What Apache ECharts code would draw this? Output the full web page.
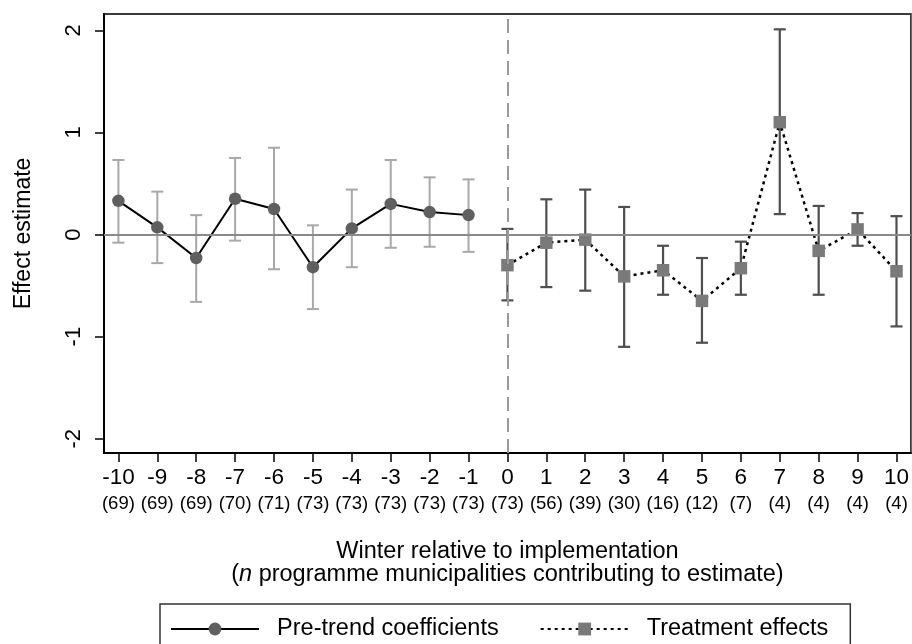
<!DOCTYPE html>
<html>
<head>
<meta charset="utf-8">
<script src="https://cdn.jsdelivr.net/npm/echarts@6/dist/echarts.min.js"></script>
<style>html,body{margin:0;padding:0;background:#fff}#c{width:912px;height:644px}</style>
</head>
<body>
<div id="c"></div>
<script>
// ---- data ----
var xTicks = [-10,-9,-8,-7,-6,-5,-4,-3,-2,-1,0,1,2,3,4,5,6,7,8,9,10];
var nCounts = [69,69,69,70,71,73,73,73,73,73,73,56,39,30,16,12,7,4,4,4,4];
var yTicks = [-2,-1,0,1,2];

var preX   = [-10,-9,-8,-7,-6,-5,-4,-3,-2,-1];
var preEst = [0.33, 0.07, -0.23, 0.35, 0.25, -0.32, 0.06, 0.30, 0.22, 0.19];
var preLo  = [-0.08, -0.28, -0.66, -0.06, -0.34, -0.73, -0.32, -0.13, -0.12, -0.17];
var preHi  = [0.73, 0.42, 0.19, 0.75, 0.85, 0.09, 0.44, 0.73, 0.56, 0.54];

var postX   = [0,1,2,3,4,5,6,7,8,9,10];
var postEst = [-0.30, -0.08, -0.05, -0.41, -0.35, -0.65, -0.33, 1.10, -0.16, 0.05, -0.36];
var postLo  = [-0.645, -0.515, -0.55, -1.10, -0.59, -1.06, -0.59, 0.20, -0.59, -0.11, -0.90];
var postHi  = [0.055, 0.345, 0.44, 0.27, -0.11, -0.23, -0.07, 2.01, 0.28, 0.21, 0.18];

var seriesNames = ['Pre-trend coefficients', 'Treatment effects'];

// ---- build ----
function zip2(a, b) { return a.map(function (v, i) { return [v, b[i]]; }); }
function zip3(a, b, c) { return a.map(function (v, i) { return [v, b[i], c[i]]; }); }

var FONT = '"Liberation Sans", Arial, sans-serif';

function errorBar(color, width) {
  return function (params, api) {
    var x = api.value(0);
    var lo = api.coord([x, api.value(1)]);
    var hi = api.coord([x, api.value(2)]);
    var hw = 6;
    var st = { stroke: color, lineWidth: width };
    return {
      type: 'group',
      children: [
        { type: 'line', shape: { x1: lo[0], y1: lo[1], x2: hi[0], y2: hi[1] }, style: st },
        { type: 'line', shape: { x1: lo[0] - hw, y1: lo[1], x2: lo[0] + hw, y2: lo[1] }, style: st },
        { type: 'line', shape: { x1: hi[0] - hw, y1: hi[1], x2: hi[0] + hw, y2: hi[1] }, style: st }
      ]
    };
  };
}

var nMap = {};
xTicks.forEach(function (t, i) { nMap[t] = nCounts[i]; });

var chart = echarts.init(document.getElementById('c'), null, { renderer: 'canvas' });
chart.setOption({
  animation: false,
  backgroundColor: '#fff',
  textStyle: { fontFamily: FONT },
  grid: {
    left: 104, top: 14, width: 809, height: 439,
    show: true, borderColor: '#3c3c3c', borderWidth: 1.8, backgroundColor: 'transparent'
  },
  xAxis: {
    type: 'value', min: -10.37, max: 10.37,
    axisLine: { show: true, onZero: false, lineStyle: { color: '#000', width: 2 } },
    axisTick: { show: true, length: 9, lineStyle: { color: '#000', width: 1.5 }, customValues: xTicks },
    splitLine: { show: false },
    axisLabel: {
      customValues: xTicks,
      margin: 12,
      formatter: function (v) { return '{a|' + v + '}\n{b|(' + nMap[v] + ')}'; },
      rich: {
        a: { fontSize: 22.5, lineHeight: 26, color: '#000', fontFamily: FONT, align: 'center' },
        b: { fontSize: 18.5, lineHeight: 26, color: '#000', fontFamily: FONT, align: 'center' }
      }
    },
    name: '{t|Winter relative to implementation}\n{t|(}{i|n}{t| programme municipalities contributing to estimate)}',
    nameLocation: 'middle',
    nameGap: 87,
    nameTextStyle: {
      rich: {
        t: { fontSize: 23.5, lineHeight: 23, color: '#000', fontFamily: FONT },
        i: { fontSize: 23.5, lineHeight: 23, color: '#000', fontFamily: FONT, fontStyle: 'italic' }
      }
    }
  },
  yAxis: {
    type: 'value', min: -2.14, max: 2.16,
    axisLine: { show: true, onZero: false, lineStyle: { color: '#000', width: 2 } },
    axisTick: { show: true, length: 9, lineStyle: { color: '#000', width: 1.5 }, customValues: yTicks },
    splitLine: { show: false },
    axisLabel: {
      customValues: yTicks, rotate: 90, margin: 19,
      fontSize: 22, color: '#000', fontFamily: FONT
    },
    name: 'Effect estimate',
    nameLocation: 'middle',
    nameGap: 69,
    nameTextStyle: { fontSize: 23, color: '#000', fontFamily: FONT }
  },
  legend: {
    data: seriesNames,
    left: 160, top: 604,
    orient: 'horizontal',
    padding: [13, 22, 30, 10],
    itemWidth: 88, itemHeight: 16, itemGap: 41,
    borderColor: '#333', borderWidth: 1.5,
    formatter: function (name) { return '  ' + name; },
    textStyle: { fontSize: 23.5, lineHeight: 22, color: '#000', fontFamily: FONT }
  },
  series: [
    {
      type: 'line', data: [], silent: true, z: 1,
      markLine: {
        silent: true, symbol: 'none', label: { show: false },
        data: [
          { yAxis: 0, lineStyle: { color: '#8a8a8a', width: 2, type: 'solid' } },
          { xAxis: 0, lineStyle: { color: '#9a9a9a', width: 2, type: [14, 7] } }
        ]
      }
    },
    {
      type: 'custom', name: 'preCI', z: 2,
      renderItem: errorBar('#a8a8a8', 2),
      data: zip3(preX, preLo, preHi), silent: true
    },
    {
      type: 'custom', name: 'postCI', z: 2,
      renderItem: errorBar('#4e4e4e', 2.2),
      data: zip3(postX, postLo, postHi), silent: true
    },
    {
      type: 'line', name: seriesNames[0], z: 3,
      data: zip2(preX, preEst),
      symbol: 'circle', symbolSize: 12.5, showSymbol: true,
      itemStyle: { color: '#5f5f5f' },
      lineStyle: { color: '#000', width: 2 }
    },
    {
      type: 'line', name: seriesNames[1], z: 3,
      data: zip2(postX, postEst),
      symbol: 'rect', symbolSize: 12.5, showSymbol: true,
      itemStyle: { color: '#7a7a7a' },
      lineStyle: { color: '#000', width: 2.5, type: [3, 4] }
    }
  ]
});
</script>
</body>
</html>
